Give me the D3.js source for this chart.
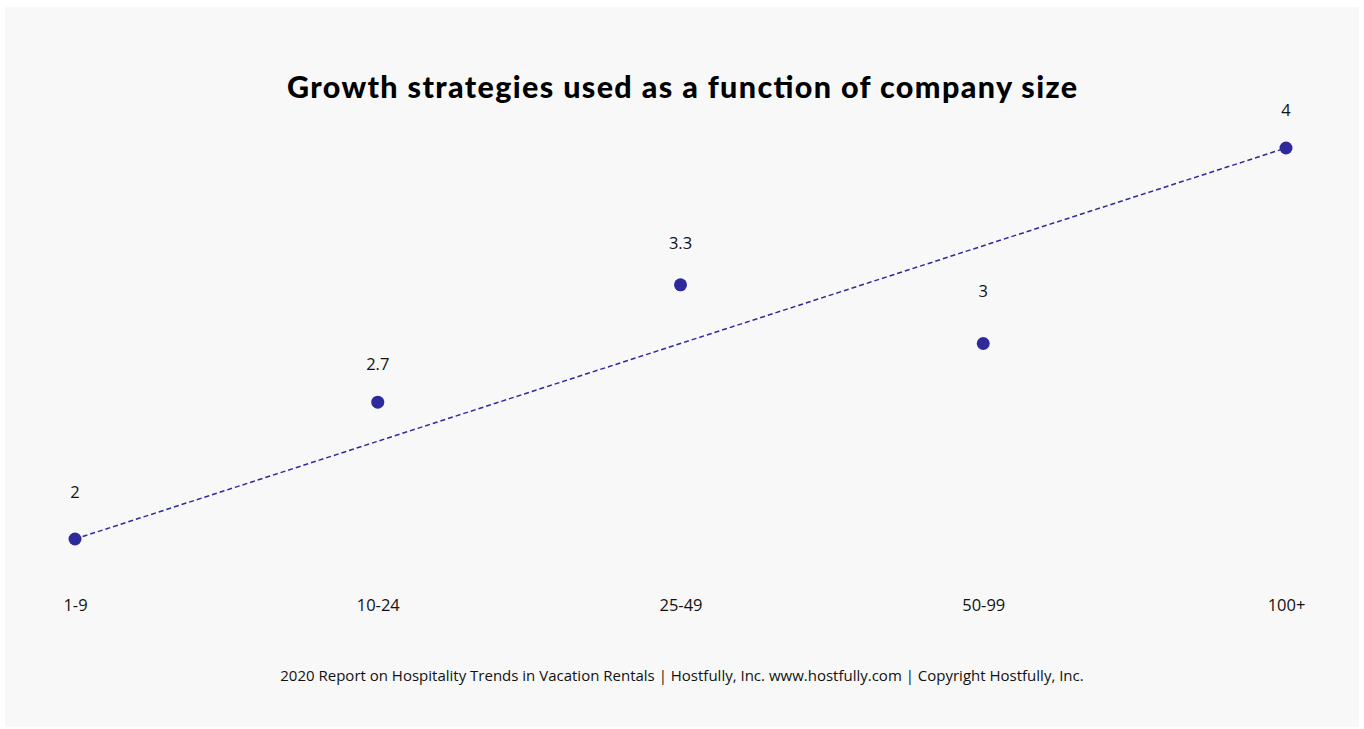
<!DOCTYPE html>
<html>
<head>
<meta charset="utf-8">
<script src="https://cdn.jsdelivr.net/npm/d3@7/dist/d3.min.js"></script>
<style>
  html, body { margin: 0; padding: 0; background: #ffffff; }
  svg { display: block; }
</style>
</head>
<body>
<svg id="chart" width="1364" height="729"></svg>
<script>
// Company size buckets and average number of growth strategies used
const categories = ["1-9", "10-24", "25-49", "50-99", "100+"];
const values = [2, 2.7, 3.3, 3, 4];
const valueLabels = ["2", "2.7", "3.3", "3", "4"];
// Trend line drawn from the smallest to the largest bucket
const trendCategories = ["1-9", "100+"];
const trendValues = [2, 4];
// Vertical nudge of each value label above its dot
const labelLift = [47, 38, 42, 52, 38];

const title = "Growth strategies used as a function of company size";
const footer = "2020 Report on Hospitality Trends in Vacation Rentals | Hostfully, Inc. www.hostfully.com | Copyright Hostfully, Inc.";

const W = 1364, H = 729;
const accent = "#2e2a9c";
const bodyFont = "'Open Sans', 'Noto Sans', sans-serif";
const svg = d3.select("#chart");

// panel background
svg.append("rect")
  .attr("x", 5).attr("y", 7)
  .attr("width", W - 10).attr("height", H - 9)
  .attr("fill", "#f8f8f8");

const x = d3.scalePoint().domain(categories).range([75, 1286]);
const y = d3.scaleLinear().domain([2, 4]).range([539, 148]);

svg.append("text")
  .attr("x", 682).attr("y", 98)
  .attr("text-anchor", "middle")
  .attr("font-family", "Lato, 'Open Sans', sans-serif")
  .attr("font-weight", 900)
  .attr("font-size", 30.5)
  .attr("textLength", 790)
  .attr("lengthAdjust", "spacing")
  .attr("fill", "#000")
  .text(title);

// x axis labels only (no line, no ticks)
const xAxis = d3.axisBottom(x).tickSize(0).tickPadding(0);
const gx = svg.append("g").attr("transform", "translate(0,605)").call(xAxis);
gx.select(".domain").remove();
gx.selectAll("text")
  .attr("font-family", bodyFont)
  .attr("font-size", 16.5)
  .attr("fill", "#111")
  .attr("y", 0)
  .attr("dy", "0.35em");

// dashed trend line
const line = d3.line().x(d => x(d[0])).y(d => y(d[1]));
svg.append("path")
  .datum(trendCategories.map((c, i) => [c, trendValues[i]]))
  .attr("d", line)
  .attr("fill", "none")
  .attr("stroke", accent)
  .attr("stroke-width", 1.5)
  .attr("stroke-dasharray", "5,3");

// dots
svg.selectAll("circle.pt")
  .data(values)
  .join("circle")
  .attr("class", "pt")
  .attr("cx", (d, i) => x(categories[i]))
  .attr("cy", d => y(d))
  .attr("r", 6.5)
  .attr("fill", accent);

// value labels
svg.selectAll("text.val")
  .data(values)
  .join("text")
  .attr("class", "val")
  .attr("x", (d, i) => x(categories[i]))
  .attr("y", (d, i) => y(d) - labelLift[i])
  .attr("dy", "0.35em")
  .attr("text-anchor", "middle")
  .attr("font-family", bodyFont)
  .attr("font-size", 16.5)
  .attr("fill", "#111")
  .text((d, i) => valueLabels[i]);

svg.append("text")
  .attr("x", 682).attr("y", 681)
  .attr("text-anchor", "middle")
  .attr("font-family", bodyFont)
  .attr("font-size", 15)
  .attr("fill", "#111")
  .text(footer);
</script>
</body>
</html>
